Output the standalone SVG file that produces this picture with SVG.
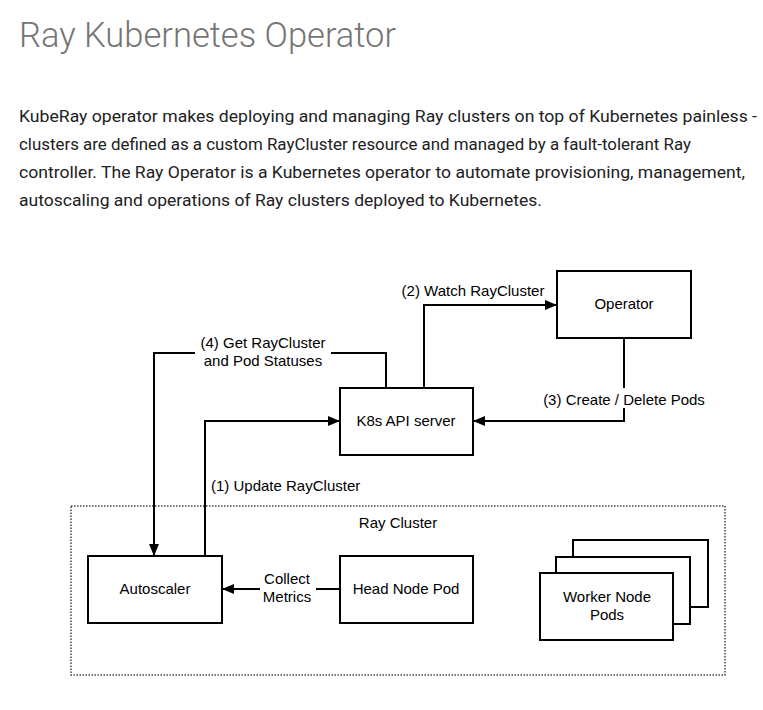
<svg xmlns="http://www.w3.org/2000/svg" width="763" height="710" viewBox="0 0 763 710">
<style>
.title{font-family:Roboto,"Liberation Sans",sans-serif;font-weight:300;font-size:34.5px;fill:#757575}
.para{font-family:Roboto,"Liberation Sans",sans-serif;font-size:17px;fill:#212121}
.lbl{font-family:"Liberation Sans",Arial,sans-serif;font-size:15px;fill:#000}
.box{fill:#fff;stroke:#000;stroke-width:2}
.edge{fill:none;stroke:#000;stroke-width:2}
</style>
<defs>
<marker id="arr" viewBox="0 0 12 10" refX="12" refY="5" markerWidth="12" markerHeight="10" markerUnits="userSpaceOnUse" orient="auto">
<path d="M0,0 L12,5 L0,10 z" fill="#000"/>
</marker>
</defs>
<rect width="763" height="710" fill="#fff"/>
<text class="title" x="19" y="47">Ray Kubernetes Operator</text>
<g id="intro">
<text class="para" x="19" y="122" textLength="738" lengthAdjust="spacingAndGlyphs">KubeRay operator makes deploying and managing Ray clusters on top of Kubernetes painless -</text>
<text class="para" x="19" y="150" textLength="672" lengthAdjust="spacingAndGlyphs">clusters are defined as a custom RayCluster resource and managed by a fault-tolerant Ray</text>
<text class="para" x="19" y="178" textLength="726" lengthAdjust="spacingAndGlyphs">controller. The Ray Operator is a Kubernetes operator to automate provisioning, management,</text>
<text class="para" x="19" y="206" textLength="523" lengthAdjust="spacingAndGlyphs">autoscaling and operations of Ray clusters deployed to Kubernetes.</text>
</g>
<g id="ray-cluster">
<rect x="71" y="506" width="654" height="169" fill="none" stroke="#444" stroke-width="1.5" stroke-dasharray="1.5,1.5"/>
<text class="lbl" x="398" y="528" text-anchor="middle">Ray Cluster</text>
</g>
<g id="connectors">
<polyline class="edge" points="424,388 424,305 557,305" marker-end="url(#arr)"/>
<polyline class="edge" points="624,338 624,421 473,421" marker-end="url(#arr)"/>
<polyline class="edge" points="386,388 386,353 154,353 154,556" marker-end="url(#arr)"/>
<polyline class="edge" points="205,556 205,421 340,421" marker-end="url(#arr)"/>
<line class="edge" x1="340" y1="589" x2="222" y2="589" marker-end="url(#arr)"/>
<text class="lbl" x="473" y="296" text-anchor="middle">(2) Watch RayCluster</text>
<rect x="540" y="388" width="168" height="20" fill="#fff"/>
<text class="lbl" x="624" y="405" text-anchor="middle">(3) Create / Delete Pods</text>
<rect x="195" y="335" width="136" height="38" fill="#fff"/>
<text class="lbl" x="263" y="348" text-anchor="middle">(4) Get RayCluster</text>
<text class="lbl" x="263" y="366" text-anchor="middle">and Pod Statuses</text>
<text class="lbl" x="211" y="491">(1) Update RayCluster</text>
<rect x="260" y="570" width="56" height="36" fill="#fff"/>
<text class="lbl" x="287" y="584" text-anchor="middle">Collect</text>
<text class="lbl" x="287" y="602" text-anchor="middle">Metrics</text>
</g>
<g id="operator">
<rect class="box" x="557" y="271" width="134" height="67"/>
<text class="lbl" x="624" y="309" text-anchor="middle">Operator</text>
</g>
<g id="k8s-api">
<rect class="box" x="340" y="388" width="133" height="67"/>
<text class="lbl" x="406" y="426" text-anchor="middle">K8s API server</text>
</g>
<g id="autoscaler">
<rect class="box" x="88" y="556" width="134" height="67"/>
<text class="lbl" x="155" y="594" text-anchor="middle">Autoscaler</text>
</g>
<g id="head-node">
<rect class="box" x="340" y="556" width="133" height="67"/>
<text class="lbl" x="406" y="594" text-anchor="middle">Head Node Pod</text>
</g>
<g id="worker-nodes">
<rect class="box" x="573" y="540" width="135" height="67"/>
<rect class="box" x="556" y="557" width="134" height="67"/>
<rect class="box" x="540" y="573" width="133" height="67"/>
<text class="lbl" x="607" y="602" text-anchor="middle">Worker Node</text>
<text class="lbl" x="607" y="620" text-anchor="middle">Pods</text>
</g>
</svg>
